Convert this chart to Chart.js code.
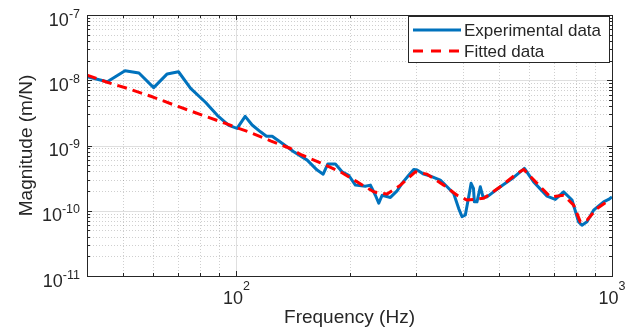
<!DOCTYPE html>
<html>
<head>
<meta charset="utf-8">
<title>Magnitude vs frequency</title>
<script src="https://cdn.jsdelivr.net/npm/chart.js@4.4.0/dist/chart.umd.min.js"></script>
<style>
  html, body { margin: 0; padding: 0; background: #fff; }
</style>
</head>
<body>
<canvas id="myChart" width="637" height="334"></canvas>
<script>
(() => {
  'use strict'

  const expFreq = [40, 45.3, 50.5, 55, 60.2, 65.4, 70.1, 75.5, 82.7, 88.9, 95.4, 100.4, 105.5, 110.1, 115.9,
    120.2, 124.5, 132.3, 142.1, 154.3, 164, 170.2, 175, 183.4, 191.1, 199, 207.4, 220.4, 227.4, 234.4,
    239.3, 244.3, 257, 267.7, 276, 287.5, 296.5, 302.7, 315.2, 328.5, 349, 363.8, 378.8, 390.7, 398.8,
    406.9, 415.3, 421.5, 427.7, 430, 437, 446, 453.5, 464.8, 504.4, 547.2, 584.5, 618.5, 671.5, 706.3,
    743.4, 782.6, 814.7, 831.8, 857.7, 893.3, 950, 979.6, 1000];
  const expMag = [1.13e-8, 9.5e-9, 1.40e-8, 1.29e-8, 7.7e-9, 1.25e-8, 1.35e-8, 7.5e-9, 4.6e-9, 2.9e-9, 2.03e-9, 1.83e-9, 2.8e-9, 2.06e-9, 1.62e-9,
    1.39e-9, 1.39e-9, 1.08e-9, 8.0e-10, 5.97e-10, 4.2e-10, 3.64e-10, 5.2e-10, 5.2e-10, 3.95e-10, 3.5e-10, 2.47e-10, 2.38e-10, 2.47e-10, 1.73e-10,
    1.31e-10, 1.73e-10, 1.60e-10, 2.02e-10, 2.63e-10, 3.5e-10, 4.3e-10, 4.2e-10, 3.64e-10, 3.4e-10, 2.94e-10, 2.33e-10, 1.84e-10, 1.08e-10, 8.1e-11,
    8.6e-11, 1.63e-10, 2.63e-10, 2.2e-10, 1.37e-10, 1.37e-10, 2.33e-10, 1.63e-10, 1.63e-10, 2.33e-10, 3.24e-10, 4.46e-10, 2.77e-10, 1.67e-10, 1.49e-10,
    1.95e-10, 1.46e-10, 6.76e-11, 6.0e-11, 6.76e-11, 1.02e-10, 1.37e-10, 1.49e-10, 1.63e-10];

  // fitted model
  const fitFreq = [40, 44.8, 50.6, 59.7, 70.2, 81, 93.5, 100.4, 107.8, 123.2, 139.3, 148, 167.4, 189.1, 209.6,
    232, 251.8, 273.3, 299.5, 321.8, 356.4, 386.7, 411.1, 455.3, 504, 558.7, 582, 631.6, 685, 743.4,
    790.5, 823.5, 857.7, 912, 965];
  const fitMag = [1.20e-8, 9.5e-9, 7.67e-9, 5.58e-9, 3.93e-9, 2.92e-9, 2.18e-9, 1.87e-9, 1.62e-9, 1.18e-9, 9.0e-10, 7.3e-10, 5.43e-10, 3.95e-10, 2.77e-10,
    1.95e-10, 1.80e-10, 2.47e-10, 3.95e-10, 3.64e-10, 2.47e-10, 1.73e-10, 1.46e-10, 1.55e-10, 2.33e-10, 3.73e-10, 4.3e-10, 2.63e-10, 1.63e-10, 1.73e-10,
    1.22e-10, 6.76e-11, 7.18e-11, 1.08e-10, 1.35e-10];

  // tick labels (base 10, exponent drawn as superscript)
  const xTickVals = [100, 1000];
  const xTickExp = ['2', '3'];
  const yTickVals = [1e-11, 1e-10, 1e-9, 1e-8, 1e-7];
  const yTickExp = ['-11', '-10', '-9', '-8', '-7'];

  const legendLabels = ['Experimental data', 'Fitted data'];

  const blue = '#0072bd';
  const red = '#ff0000';
  const axisColor = '#262626';
  const fontFamily = "'Liberation Sans', Arial, Helvetica, sans-serif";

  // minor grid values: 2..9 x each decade inside range
  function minorValues(lo, hi) {
    let out = [];
    for (let e = Math.floor(Math.log10(lo)); e < Math.ceil(Math.log10(hi)); e++) {
      for (let k = 2; k <= 9; k++) {
        let v = k * Math.pow(10, e);
        if (v > lo * 1.0001 && v < hi * 0.9999) out.push(v);
      }
    }
    return out;
  }

  function hline(ctx, x1, x2, y) {
    ctx.beginPath(); ctx.moveTo(x1, y); ctx.lineTo(x2, y); ctx.stroke();
  }
  function vline(ctx, x, y1, y2) {
    ctx.beginPath(); ctx.moveTo(x, y1); ctx.lineTo(x, y2); ctx.stroke();
  }

  // MATLAB-like box, grid, ticks and legend
  const matlabAxes = {
    id: 'matlabAxes',
    beforeDatasetsDraw(chart) {
      const {ctx, chartArea: a, scales: {x, y}} = chart;
      ctx.save();
      ctx.lineWidth = 1;
      // minor grid (dotted)
      ctx.strokeStyle = 'rgba(38,38,38,0.22)';
      ctx.setLineDash([1, 2]);
      minorValues(x.min, x.max).forEach(v => {
        vline(ctx, Math.round(x.getPixelForValue(v)) + 0.5, a.top, a.bottom);
      });
      minorValues(y.min, y.max).forEach(v => {
        hline(ctx, a.left, a.right, Math.round(y.getPixelForValue(v)) + 0.5);
      });
      // major grid (solid)
      ctx.setLineDash([]);
      ctx.strokeStyle = 'rgba(38,38,38,0.15)';
      xTickVals.forEach(v => {
        if (v > x.min && v < x.max) vline(ctx, Math.round(x.getPixelForValue(v)) + 0.5, a.top, a.bottom);
      });
      yTickVals.forEach(v => {
        if (v > y.min && v < y.max) hline(ctx, a.left, a.right, Math.round(y.getPixelForValue(v)) + 0.5);
      });
      ctx.restore();
    },
    afterDatasetsDraw(chart) {
      const {ctx, chartArea: a, scales: {x, y}} = chart;
      ctx.save();
      ctx.strokeStyle = axisColor;
      ctx.lineWidth = 1;
      ctx.setLineDash([]);
      // box
      ctx.strokeRect(Math.round(a.left) + 0.5, Math.round(a.top) + 0.5,
        Math.round(a.right - a.left), Math.round(a.bottom - a.top));
      // ticks pointing in, all four sides
      const majorLen = 5, minorLen = 3;
      minorValues(x.min, x.max).forEach(v => {
        let px = Math.round(x.getPixelForValue(v)) + 0.5;
        vline(ctx, px, a.bottom, a.bottom - minorLen);
        vline(ctx, px, a.top, a.top + minorLen);
      });
      xTickVals.forEach(v => {
        let px = Math.round(x.getPixelForValue(v)) + 0.5;
        vline(ctx, px, a.bottom, a.bottom - majorLen);
        vline(ctx, px, a.top, a.top + majorLen);
      });
      minorValues(y.min, y.max).forEach(v => {
        let py = Math.round(y.getPixelForValue(v)) + 0.5;
        hline(ctx, a.left, a.left + minorLen, py);
        hline(ctx, a.right, a.right - minorLen, py);
      });
      yTickVals.forEach(v => {
        let py = Math.round(y.getPixelForValue(v)) + 0.5;
        hline(ctx, a.left, a.left + majorLen, py);
        hline(ctx, a.right, a.right - majorLen, py);
      });

      // tick labels 10^n
      ctx.fillStyle = axisColor;
      ctx.textBaseline = 'alphabetic';
      const baseFont = `18px ${fontFamily}`;
      const expFont = `12.5px ${fontFamily}`;
      yTickVals.forEach((v, i) => {
        let py = y.getPixelForValue(v);
        ctx.font = expFont;
        let ew = ctx.measureText(yTickExp[i]).width;
        ctx.textAlign = 'right';
        ctx.fillText(yTickExp[i], 80, py + 2.5);
        ctx.font = baseFont;
        ctx.fillText('10', 80 - ew, py + 10.5);
      });
      xTickVals.forEach((v, i) => {
        let px = x.getPixelForValue(v);
        ctx.font = baseFont;
        let bw = ctx.measureText('10').width;
        ctx.font = expFont;
        let ew = ctx.measureText(xTickExp[i]).width;
        let start = px - (bw + ew) / 2;
        ctx.textAlign = 'left';
        ctx.font = baseFont;
        ctx.fillText('10', start, a.bottom + 27.5);
        ctx.font = expFont;
        ctx.fillText(xTickExp[i], start + bw, a.bottom + 14);
      });

      // legend box in the north-east corner
      const lx = 408.5, ly = 16.5, lw = 201, lh = 46;
      ctx.fillStyle = '#ffffff';
      ctx.fillRect(lx, ly, lw, lh);
      ctx.strokeStyle = axisColor;
      ctx.lineWidth = 1;
      ctx.strokeRect(lx, ly, lw, lh);
      const rows = [
        {label: legendLabels[0], color: blue, dash: [], y: 30},
        {label: legendLabels[1], color: red, dash: [10, 8], y: 51}
      ];
      ctx.font = `17px ${fontFamily}`;
      ctx.textAlign = 'left';
      ctx.textBaseline = 'middle';
      rows.forEach(r => {
        ctx.strokeStyle = r.color;
        ctx.lineWidth = 3;
        ctx.setLineDash(r.dash);
        hline(ctx, 413, 461, r.y);
        ctx.setLineDash([]);
        ctx.fillStyle = axisColor;
        ctx.fillText(r.label, 464, r.y + 1);
      });
      ctx.restore();
    }
  };

  const ctx = document.getElementById('myChart');
  // eslint-disable-next-line no-unused-vars
  const myChart = new Chart(ctx, {
    type: 'line',
    data: {
      datasets: [{
        label: legendLabels[1],
        data: fitFreq.map((f, i) => ({x: f, y: fitMag[i]})),
        borderColor: red,
        borderWidth: 3,
        borderDash: [10, 6],
        borderJoinStyle: 'round',
        pointRadius: 0,
        tension: 0,
        fill: false,
        order: 0
      }, {
        label: legendLabels[0],
        data: expFreq.map((f, i) => ({x: f, y: expMag[i]})),
        borderColor: blue,
        borderWidth: 3,
        borderJoinStyle: 'round',
        pointRadius: 0,
        tension: 0,
        fill: false,
        order: 1
      }]
    },
    options: {
      responsive: false,
      animation: false,
      layout: {
        padding: {top: 15, right: 25, left: 0, bottom: 0}
      },
      plugins: {
        legend: {display: false},
        tooltip: {enabled: false}
      },
      scales: {
        x: {
          type: 'logarithmic',
          min: 40,
          max: 1000,
          grid: {display: false},
          border: {display: false},
          ticks: {display: false},
          title: {
            display: true,
            text: 'Frequency (Hz)',
            color: axisColor,
            font: {family: fontFamily, size: 19},
            padding: {top: 0, bottom: 5}
          },
          afterFit: (scale) => { scale.height = 58; }
        },
        y: {
          type: 'logarithmic',
          min: 1e-11,
          max: 1e-7,
          grid: {display: false},
          border: {display: false},
          ticks: {display: false},
          title: {
            display: true,
            text: 'Magnitude (m/N)',
            color: axisColor,
            font: {family: fontFamily, size: 19},
            padding: {top: 15, bottom: 0}
          },
          afterFit: (scale) => { scale.width = 87; }
        }
      }
    },
    plugins: [matlabAxes]
  });
})();
</script>
</body>
</html>
